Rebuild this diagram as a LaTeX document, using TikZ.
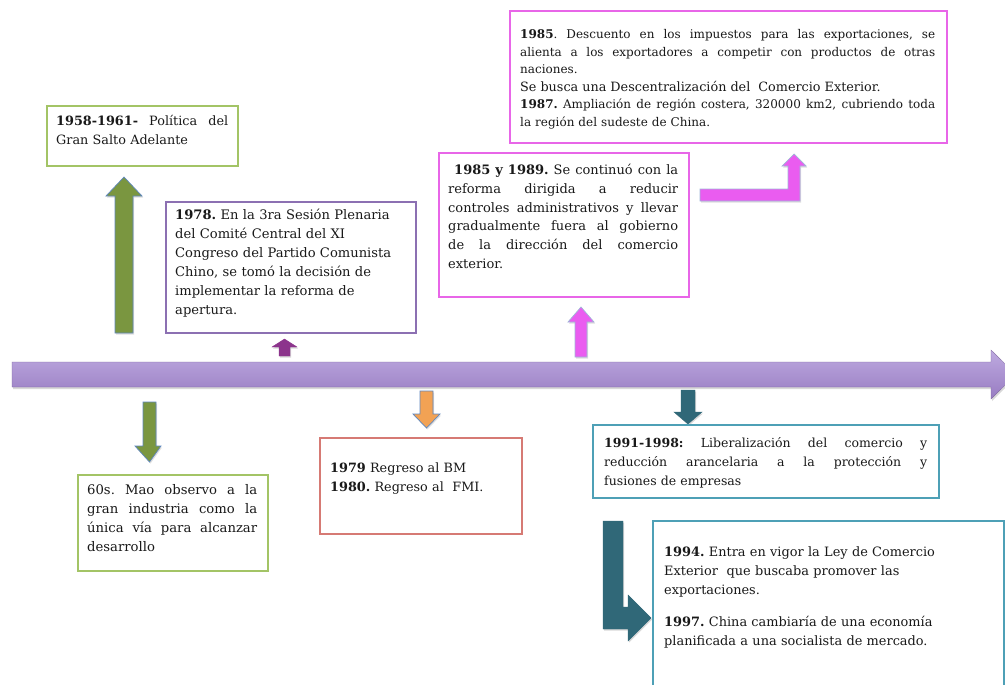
\documentclass[tikz,border=0pt]{standalone}
\usepackage{fontspec}
\setmainfont{DejaVu Serif}
\usetikzlibrary{shadows}
\definecolor{cgreen}{RGB}{163,196,102}
\definecolor{cpurple}{RGB}{140,112,178}
\definecolor{cmag}{RGB}{232,102,232}
\definecolor{cred}{RGB}{214,122,116}
\definecolor{cteal}{RGB}{78,160,182}
\definecolor{aolive}{RGB}{122,150,64}
\definecolor{aoutline}{RGB}{95,135,190}
\definecolor{apurple}{RGB}{140,52,140}
\definecolor{amag}{RGB}{234,92,240}
\definecolor{aorange}{RGB}{242,162,84}
\definecolor{ateal}{RGB}{48,104,120}
\definecolor{tltop}{RGB}{190,170,224}
\definecolor{tlbot}{RGB}{152,124,194}
\definecolor{txtc}{RGB}{25,25,25}
\newcommand{\jline}[2]{\leavevmode\hbox to #1{\spaceskip=.3333em plus 1fil\relax #2}}
\newcommand{\fs}[1]{\fontsize{#1}{19}\selectfont\frenchspacing}
\begin{document}
\begin{tikzpicture}[x=1pt,y=-1pt,
  box/.style={line width=1.6pt, fill=white, inner sep=0pt, anchor=north west},
  txt/.style={inner sep=0pt, anchor=base west, align=left, text=txtc,
    font=\fs{12.5}},
  blk/.style={line width=0.7pt, drop shadow={opacity=0.25, shadow xshift=1pt, shadow yshift=-1.5pt}},
  blkn/.style={line width=0.4pt, drop shadow={opacity=0.3, shadow xshift=1pt, shadow yshift=-1.5pt}}]
\useasboundingbox (0,0) rectangle (1005,685);
\clip (0,0) rectangle (1005,685);
\fill[white] (0,0) rectangle (1005,685);

% main timeline arrow
\shade[top color=tltop, bottom color=tlbot, draw=tlbot!80!black, line width=0.3pt,
  drop shadow={opacity=0.3, shadow xshift=1pt, shadow yshift=-2pt}]
  (12,362) -- (991,362) -- (991,350) -- (1016,374.5) -- (991,399) -- (991,387) -- (12,387) -- cycle;

% green up arrow
\draw[blk, fill=aolive, draw=aoutline] (115,333) -- (115,196) -- (106,196) -- (124,177) -- (142,196) -- (133,196) -- (133,333) -- cycle;
% green down arrow
\draw[blk, fill=aolive, draw=aoutline] (143,402) -- (156,402) -- (156,446) -- (161,446) -- (149.5,462) -- (135,446) -- (143,446) -- cycle;
% purple small up arrow
\draw[blkn, fill=apurple, draw=apurple] (279,356) -- (279,347) -- (272,347) -- (284.5,339) -- (297,347) -- (290,347) -- (290,356) -- cycle;
% orange down arrow
\draw[blk, fill=aorange, draw=aoutline] (420,391) -- (433,391) -- (433,414) -- (440,414) -- (426.5,428) -- (413,414) -- (420,414) -- cycle;
% magenta up arrow
\draw[blk, fill=amag, draw=aoutline!60] (575,357) -- (575,322) -- (568,322) -- (581,307) -- (594,322) -- (587,322) -- (587,357) -- cycle;
% magenta bent arrow
\draw[blk, fill=amag, draw=aoutline!60] (700,189) -- (788,189) -- (788,166) -- (782,166) -- (794,154) -- (806,166) -- (800,166) -- (800,201) -- (700,201) -- cycle;
% teal down arrow
\draw[blkn, fill=ateal, draw=ateal] (681,390) -- (695,390) -- (695,412) -- (702,412) -- (688,424) -- (674,412) -- (681,412) -- cycle;
% teal bent arrow
\draw[blkn, fill=ateal, draw=ateal] (603,521) -- (623,521) -- (623,607) -- (628,607) -- (628,595) -- (651,618) -- (628,641) -- (628,629) -- (603,629) -- cycle;

% boxes
\node[box, draw=cgreen, minimum width=191pt, minimum height=60pt] (b58) at (46,105) {};
\node[box, draw=cpurple, minimum width=250pt, minimum height=131pt] (b78) at (165,201) {};
\node[box, draw=cmag, minimum width=437pt, minimum height=132pt] (b85) at (509,10) {};
\node[box, draw=cmag, minimum width=250pt, minimum height=144pt] (b8589) at (438,152) {};
\node[box, draw=cgreen, minimum width=190pt, minimum height=96pt] (b60) at (77,474) {};
\node[box, draw=cred, minimum width=202pt, minimum height=96pt] (b79) at (319,437) {};
\node[box, draw=cteal, minimum width=346pt, minimum height=73pt] (b91) at (592,424) {};
\node[box, draw=cteal, minimum width=351pt, minimum height=200pt] (b94) at (652,520) {};

% texts
\node[txt, text width=173pt, font=\fs{12.8}] (t58) at (56,125)
  {\jline{172pt}{\textbf{1958-1961-} Política del}\\Gran Salto Adelante};
\node[txt, text width=238pt, font=\fs{13.1}] (t78) at (175,219)
  {\textbf{1978.} En la 3ra Sesión Plenaria\\del Comité Central del XI\\Congreso del Partido Comunista\\Chino, se tomó la decisión de\\implementar la reforma de\\apertura.};
\node[txt, text width=170pt, font=\fs{13.2}] (t60) at (87,494)
  {\jline{170pt}{60s. Mao observo a la}\\\jline{170pt}{gran industria como la}\\\jline{170pt}{única vía para alcanzar}\\desarrollo};
\node[txt, text width=185pt, font=\fs{12.8}] (t79) at (330,472)
  {\textbf{1979} Regreso al BM\\\textbf{1980.} Regreso al\ \ FMI.};
\node[txt, text width=232pt, font=\fontsize{13}{18.6}\selectfont\frenchspacing] (t8589) at (448,175)
  {\jline{230pt}{\hspace{6pt}\textbf{1985 y 1989.} Se continuó con la}\\\jline{230pt}{reforma dirigida a reducir}\\\jline{230pt}{controles administrativos y llevar}\\\jline{230pt}{gradualmente fuera al gobierno}\\\jline{230pt}{de la dirección del comercio}\\exterior.};
\node[txt, text width=417pt, font=\fontsize{12}{17.5}\selectfont\frenchspacing] (t85) at (520,39)
  {\jline{415pt}{\textbf{1985}. Descuento en los impuestos para las exportaciones, se}\\\jline{415pt}{alienta a los exportadores a competir con productos de otras}\\naciones.\\{\fontsize{12.8}{17.5}\selectfont Se busca una Descentralización del\ \ Comercio Exterior.}\\\jline{415pt}{\textbf{1987.} Ampliación de región costera, 320000 km2, cubriendo toda}\\la región del sudeste de China.};
\node[txt, text width=325pt, font=\fs{12.5}] (t91) at (604,447)
  {\jline{323pt}{\textbf{1991-1998:} Liberalización del comercio y}\\\jline{323pt}{reducción arancelaria a la protección y}\\fusiones de empresas};
\node[txt, text width=335pt, font=\fs{12.9}] (t94) at (664,556)
  {\textbf{1994.} Entra en vigor la Ley de Comercio\\Exterior\ \ que buscaba promover las\\exportaciones.\\[13pt]\textbf{1997.} China cambiaría de una economía\\planificada a una socialista de mercado.};
\end{tikzpicture}
\end{document}
